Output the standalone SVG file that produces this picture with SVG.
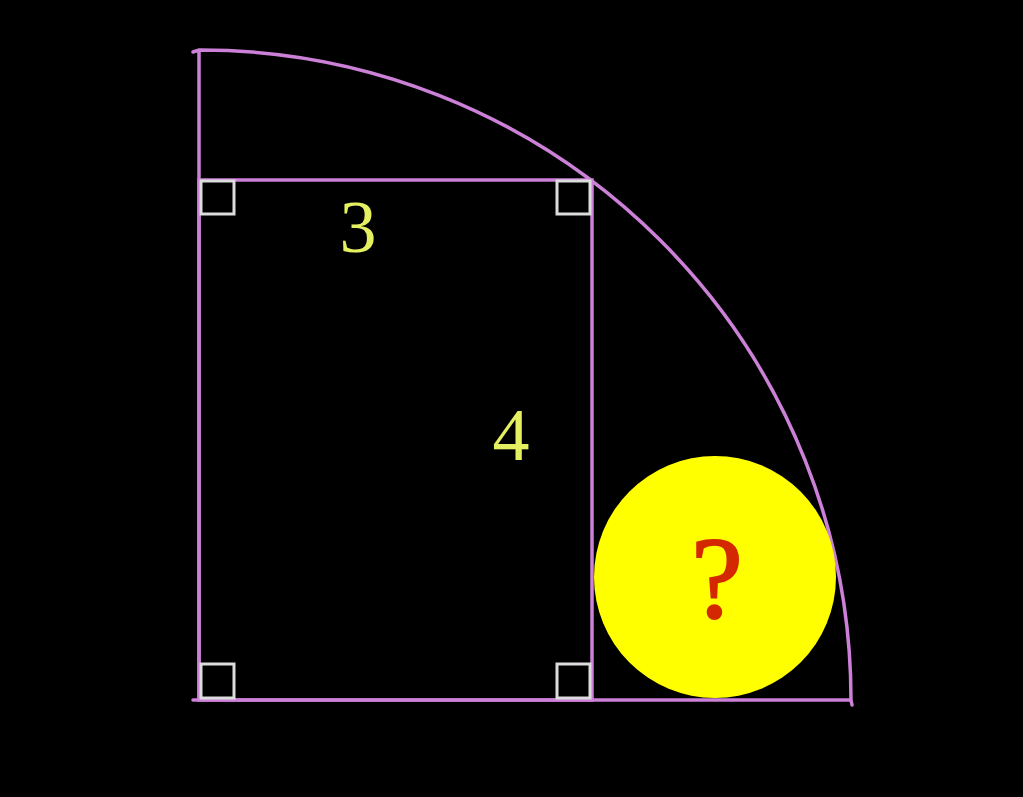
<svg xmlns="http://www.w3.org/2000/svg" width="1023" height="797" viewBox="0 0 1023 797">
<style>
.ln{stroke:#cc80d8;stroke-width:3.5;fill:none;stroke-linecap:round}
.sq{stroke:#dcdcdc;stroke-width:3;fill:none}
.lbl{font-family:"Liberation Serif",serif;fill:#e4f060;font-size:74px;text-anchor:middle}
</style>
<rect width="1023" height="797" fill="#000"/>
<g id="quarter">
<path class="ln" d="M199 700 L199 52 M193 52 L199 50 A651 650 0 0 1 851 700 L852 705 M193 700 L851 700"/>
</g>
<g id="rectangle">
<rect class="ln" x="199" y="180" width="393" height="520"/>
<rect class="sq" x="201" y="181" width="33" height="33"/>
<rect class="sq" x="557" y="181" width="33" height="33"/>
<rect class="sq" x="201" y="664" width="33" height="34"/>
<rect class="sq" x="557" y="664" width="33" height="34"/>
</g>
<g id="circle">
<circle cx="715" cy="577" r="121" fill="#ffff00"/>
<text x="717" y="617" font-family="Liberation Serif,serif" font-size="116" fill="#d42800" stroke="#d42800" stroke-width="2" text-anchor="middle">?</text>
</g>
<g id="labels">
<text class="lbl" x="358" y="252">3</text>
<text class="lbl" x="511" y="460">4</text>
</g>
</svg>
